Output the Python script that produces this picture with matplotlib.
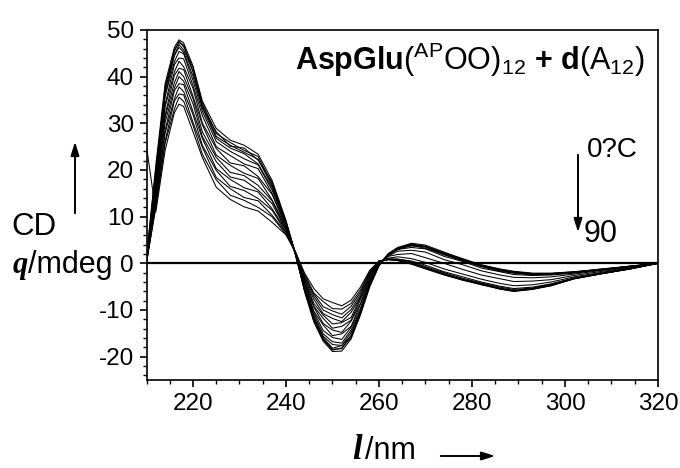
import matplotlib
matplotlib.use("Agg")
import matplotlib.pyplot as plt
from matplotlib.patches import FancyArrowPatch
from matplotlib.ticker import MultipleLocator

plt.rcParams['font.family'] = ['Liberation Sans', 'DejaVu Sans']
plt.rcParams['mathtext.fontset'] = 'custom'
plt.rcParams['mathtext.rm'] = 'Liberation Sans'
plt.rcParams['mathtext.bf'] = 'Liberation Sans:bold'
plt.rcParams['mathtext.it'] = 'Liberation Sans:italic'
plt.rcParams['axes.unicode_minus'] = False

# wavelength grid (nm)
wavelength = [210, 212, 214, 216, 217, 218, 220, 222, 225, 228, 231, 234, 237, 240, 242,
              244, 246, 248, 250, 252, 254, 256, 258,
              260, 262, 264, 267, 270, 274, 278, 282, 286, 289, 293, 297, 302, 308, 314, 320]

# CD spectra (mdeg), from 0 C (cd_t01) to 90 C (cd_t16)
cd_t01 = [1.2, 21, 38.5, 46.3, 47.9, 47.2, 42.3, 34.8, 28.9, 26.4, 25.3, 23.4, 17.8, 9.2, 2.1,
          -6.1, -12.6, -16.7, -18.9, -18.8, -16.2, -11.1, -5.1,
          -0.5, 2.1, 3.4, 4.3, 3.9, 2.4, 1.0, -0.3, -1.2, -1.7, -2.1, -2.1, -1.8, -1.2, -0.6, 0.0]
cd_t02 = [0.8, 19.2, 37.9, 45.4, 47.6, 46.4, 41.9, 34.4, 27.8, 25.9, 24.2, 22.9, 17.0, 8.7, 2.2,
          -5.8, -12.4, -16.4, -18.6, -18.1, -15.9, -10.6, -4.8,
          -0.4, 2.0, 3.1, 4.2, 3.6, 2.3, 0.8, -0.4, -1.3, -1.8, -2.2, -2.2, -1.8, -1.3, -0.6, 0.0]
cd_t03 = [1.5, 20.2, 36.9, 45.8, 47.3, 46.8, 41.0, 33.6, 28.2, 25.1, 24.7, 22.1, 17.4, 8.9, 1.9,
          -5.6, -12.0, -16.2, -18.4, -18.3, -15.4, -10.8, -4.6,
          -0.5, 1.8, 3.3, 3.9, 3.7, 2.0, 0.9, -0.5, -1.4, -1.9, -2.2, -2.3, -1.9, -1.2, -0.7, 0.0]
cd_t04 = [0.6, 18.8, 37.2, 44.6, 46.9, 45.7, 41.2, 33.9, 27.2, 25.3, 23.8, 22.3, 16.6, 8.9, 2.3,
          -5.9, -11.7, -15.9, -18.2, -17.6, -15.6, -10.3, -4.8,
          -0.3, 2.0, 3.0, 4.1, 3.5, 2.1, 0.7, -0.6, -1.4, -2.0, -2.3, -2.2, -1.9, -1.3, -0.6, 0.0]
cd_t05 = [0.9, 18.2, 36.0, 44.5, 46.3, 45.2, 40.1, 33.3, 26.8, 24.7, 23.5, 21.3, 16.2, 8.4, 1.9,
          -5.3, -11.5, -15.6, -17.4, -17.6, -14.8, -10.4, -4.4,
          -0.4, 1.7, 3.2, 3.7, 3.5, 1.8, 0.7, -0.6, -1.6, -2.0, -2.4, -2.3, -1.9, -1.3, -0.7, 0.0]
cd_t06 = [1.1, 17.6, 35.8, 43.2, 45.4, 44.9, 39.2, 32.6, 26.1, 24.0, 22.4, 21.1, 15.7, 8.6, 2.0,
          -5.4, -11.0, -15.1, -16.8, -17.1, -14.3, -10.1, -4.3,
          -0.3, 2.0, 2.9, 3.9, 3.2, 1.9, 0.5, -0.7, -1.7, -2.1, -2.5, -2.3, -2.0, -1.3, -0.7, 0.0]
cd_t07 = [0.7, 17.2, 34.0, 42.6, 44.0, 43.8, 38.1, 31.7, 25.0, 23.1, 21.3, 20.3, 15.0, 8.3, 2.3,
          -5.1, -10.5, -14.4, -15.9, -16.3, -13.7, -9.6, -4.0,
          -0.2, 1.7, 3.0, 3.4, 3.1, 1.5, 0.4, -1.0, -1.8, -2.4, -2.6, -2.5, -2.1, -1.4, -0.7, 0.0]
cd_t08 = [0.5, 16.4, 33.5, 41.0, 43.3, 42.1, 37.5, 30.1, 24.6, 21.5, 20.9, 18.6, 14.8, 7.8, 2.1,
          -4.5, -10.3, -13.2, -15.5, -15.1, -13.5, -8.8, -3.9,
          -0.1, 1.6, 2.6, 2.8, 2.4, 0.8, -0.3, -1.6, -2.5, -3.0, -3.1, -2.9, -2.3, -1.5, -0.8, 0.0]
cd_t09 = [0.4, 15.6, 31.8, 40.3, 41.8, 41.5, 35.8, 29.7, 23.2, 21.0, 19.3, 18.2, 13.6, 7.8, 2.4,
          -4.4, -9.4, -12.9, -14.3, -14.8, -12.4, -8.6, -3.4,
          0.1, 1.5, 1.9, 2.1, 1.2, 0.0, -1.3, -2.5, -3.3, -3.9, -3.8, -3.5, -2.6, -1.7, -0.9, 0.0]
cd_t10 = [0.5, 15.0, 31.3, 38.7, 41.1, 40.0, 35.3, 28.2, 22.7, 19.5, 18.8, 16.7, 13.4, 7.3, 2.2,
          -3.8, -9.2, -11.8, -13.9, -13.5, -12.2, -7.8, -3.3,
          0.3, 1.1, 1.4, 1.0, 0.2, -1.2, -2.3, -3.4, -4.3, -4.8, -4.6, -4.0, -2.9, -1.9, -1.0, 0.0]
cd_t11 = [0.3, 14.2, 30.2, 37.6, 40.0, 39.0, 34.2, 27.2, 21.8, 18.5, 17.8, 15.7, 12.8, 7.1, 2.4,
          -3.6, -8.6, -11.1, -13.0, -12.7, -11.6, -7.3, -2.9,
          0.4, 1.0, 0.9, 0.5, -0.4, -1.8, -2.9, -4.0, -4.9, -5.4, -5.1, -4.4, -3.1, -2.1, -1.1, 0.0]
cd_t12 = [0.2, 13.6, 28.5, 37.0, 38.5, 38.3, 32.5, 26.8, 20.3, 18.0, 16.2, 15.3, 11.7, 7.1, 2.2,
          -3.5, -7.7, -10.8, -11.8, -12.5, -10.5, -7.2, -2.6,
          0.5, 0.8, 0.9, 0.3, -0.7, -2.0, -3.2, -4.2, -5.1, -5.6, -5.3, -4.5, -3.2, -2.1, -1.1, 0.0]
cd_t13 = [0.3, 12.9, 27.9, 35.3, 37.8, 36.8, 31.9, 25.3, 19.9, 16.5, 15.6, 13.9, 11.4, 6.6, 2.5,
          -3.1, -7.1, -10.0, -11.0, -11.7, -9.9, -6.7, -2.3,
          0.4, 0.9, 0.7, 0.1, -0.9, -2.2, -3.4, -4.3, -5.3, -5.8, -5.4, -4.6, -3.3, -2.2, -1.2, 0.0]
cd_t14 = [0.1, 12.2, 26.2, 34.8, 36.3, 36.1, 30.2, 24.9, 18.4, 16.0, 14.1, 13.4, 10.3, 6.6, 2.3,
          -2.8, -6.6, -9.3, -10.2, -10.9, -9.2, -6.2, -2.0,
          0.5, 0.8, 0.7, 0.0, -1.0, -2.3, -3.5, -4.4, -5.4, -5.9, -5.5, -4.7, -3.2, -2.2, -1.2, 0.0]
cd_t15 = [0.2, 12.0, 25.7, 33.1, 35.6, 34.7, 29.6, 23.4, 17.9, 14.6, 13.5, 12.0, 10.0, 6.2, 2.6,
          -2.3, -6.4, -8.2, -9.7, -9.8, -8.6, -5.7, -1.8,
          0.5, 0.8, 0.6, -0.1, -1.1, -2.4, -3.6, -4.5, -5.5, -6.0, -5.5, -4.8, -3.3, -2.2, -1.2, 0.0]
cd_t16 = [25.0, 11.0, 24.2, 32.3, 34.1, 33.6, 28.2, 22.7, 16.3, 13.7, 12.1, 11.2, 8.8, 6.1, 2.4,
          -2.1, -5.4, -7.6, -8.4, -9.1, -7.9, -5.1, -1.5,
          0.5, 0.8, 0.6, -0.2, -1.2, -2.5, -3.6, -4.6, -5.5, -6.0, -5.6, -4.8, -3.3, -2.2, -1.2, 0.0]

spectra = [cd_t01, cd_t02, cd_t03, cd_t04, cd_t05, cd_t06, cd_t07, cd_t08,
           cd_t09, cd_t10, cd_t11, cd_t12, cd_t13, cd_t14, cd_t15, cd_t16]

x_ticks = [220, 240, 260, 280, 300, 320]
y_ticks = [-20, -10, 0, 10, 20, 30, 40, 50]

W, H = 680, 468
fig = plt.figure(figsize=(W / 100, H / 100), dpi=100)
ax = fig.add_axes([146.5 / W, (H - 380) / H, (658 - 146.5) / W, (380 - 30) / H])

for s in spectra:
    ax.plot(wavelength, s, color='black', lw=0.75)
ax.axhline(0, color='black', lw=1.6, zorder=3)

ax.set_xlim(210, 320)
ax.set_ylim(-25, 50)
ax.set_xticks(x_ticks)
ax.set_yticks(y_ticks)
ax.xaxis.set_minor_locator(MultipleLocator(5))
ax.yaxis.set_minor_locator(MultipleLocator(2))
ax.tick_params(axis='both', which='major', direction='out', length=5, width=1.2,
               labelsize=17.5, pad=4)
ax.tick_params(axis='both', which='minor', direction='out', length=2.8, width=1.0)
ax.tick_params(axis='x', which='both', top=False)
ax.tick_params(axis='y', which='both', right=False)
for sp in ax.spines.values():
    sp.set_linewidth(1.2)


def fx(px):
    return px / W


def fy(py):
    return 1 - py / H


def arrow(p0, p1):
    fig.add_artist(FancyArrowPatch(
        (fx(p0[0]), fy(p0[1])), (fx(p1[0]), fy(p1[1])), transform=fig.transFigure,
        arrowstyle='-|>,head_length=8,head_width=2.5', color='black', lw=1.4))


# title inside the plot
fig.text(fx(645), fy(70),
         r'$\mathbf{AspGlu}(^{\mathrm{AP}}\mathrm{OO})_{12}\ \mathbf{+}\ \mathbf{d}(\mathrm{A}_{12})$',
         fontsize=22, ha='right', va='baseline')

# temperature annotation
fig.text(fx(587), fy(157), '0?C', fontsize=20, ha='left', va='baseline')
fig.text(fx(584), fy(242), '90', fontsize=22, ha='left', va='baseline')
arrow((578, 152), (578, 235))

# y label
fig.text(fx(11), fy(235), 'CD', fontsize=22.5, ha='left', va='baseline')
fig.text(fx(13), fy(273), 'q', fontsize=22, ha='left', va='baseline',
         family='Liberation Serif', weight='bold', style='italic')
fig.text(fx(28), fy(273), '/mdeg', fontsize=22, ha='left', va='baseline')
arrow((75, 216), (75, 139))

# x label
fig.text(fx(352), fy(459), 'l', fontsize=25, ha='left', va='baseline',
         family='Liberation Serif', weight='bold', style='italic')
fig.text(fx(365), fy(459), '/nm', fontsize=22, ha='left', va='baseline')
arrow((438, 456), (498, 456))

fig.savefig('out.png', dpi=100)
